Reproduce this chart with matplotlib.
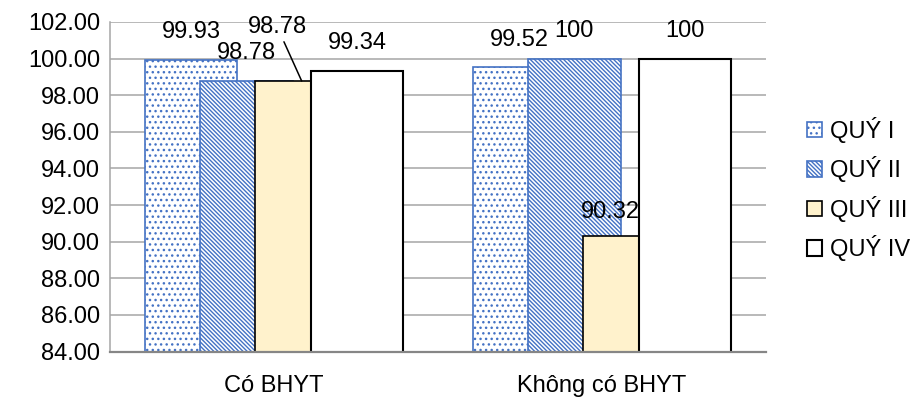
import matplotlib
matplotlib.use("Agg")
import matplotlib.pyplot as plt
import numpy as np

# Data
categories = ["Có BHYT", "Không có BHYT"]
series_names = ["QUÝ I", "QUÝ II", "QUÝ III", "QUÝ IV"]
q1 = [99.93, 99.52]
q2 = [98.78, 100]
q3 = [98.78, 90.32]
q4 = [99.34, 100]
y_ticks = [84, 86, 88, 90, 92, 94, 96, 98, 100, 102]

plt.rcParams["font.family"] = ["Liberation Sans", "DejaVu Sans"]
plt.rcParams["hatch.linewidth"] = 1.0

BLUE = "#4472C4"
FS = 17

fig = plt.figure(figsize=(9.21, 4.01), dpi=100)
ax = fig.add_axes([110 / 921, 1 - 351.5 / 401, 656 / 921, 329.5 / 401])

x = np.arange(len(categories))
step = 0.1686
width = 0.282

styles = [
    dict(facecolor="white", edgecolor=BLUE, hatch="...", linewidth=1.2),
    dict(facecolor="white", edgecolor=BLUE, hatch="\\" * 8, linewidth=1.2),
    dict(facecolor="#FFF2CC", edgecolor="black", linewidth=1.2),
    dict(facecolor="white", edgecolor="black", linewidth=1.5),
]
all_series = [q1, q2, q3, q4]
containers = []
for i, (vals, st, name) in enumerate(zip(all_series, styles, series_names)):
    offs = (i - 1.5) * step
    bc = ax.bar(x + offs, vals, width=width, label=name, zorder=2 + i, **st)
    containers.append(bc)

ax.set_xlim(-0.5, 1.5)
ax.set_ylim(84, 102)
ax.set_yticks(y_ticks)
ax.set_yticklabels([f"{v:.2f}" for v in y_ticks], fontsize=FS)
ax.set_xticks(x)
ax.set_xticklabels(categories, fontsize=FS)
ax.tick_params(axis="y", length=0, pad=7)
ax.tick_params(axis="x", length=0, pad=17)

ax.grid(axis="y", color="#A6A6A6", linewidth=1.1, zorder=0)
ax.set_axisbelow(True)
for s in ["top", "right"]:
    ax.spines[s].set_visible(False)
ax.spines["left"].set_color("#A6A6A6")
ax.spines["left"].set_linewidth(1.1)
ax.spines["bottom"].set_color("#868686")
ax.spines["bottom"].set_linewidth(1.6)
ax.spines["bottom"].set_zorder(10)


def fmt(v):
    return f"{v:g}"


PX = 0.72  # points per pixel at 100 dpi
# Data labels: default position above each bar; a few are nudged
label_offsets = {
    (2, 0): (-24.5, 54.2),
    (2, 1): (-19, 23.5),
}
for i, bc in enumerate(containers):
    for j, rect in enumerate(bc):
        v = all_series[i][j]
        cx = rect.get_x() + rect.get_width() / 2
        dx, dy = label_offsets.get((i, j), (0, 27.5))
        kw = {}
        if (i, j) == (2, 0):
            kw["arrowprops"] = dict(arrowstyle="-", color="black", lw=1.1,
                                    shrinkA=1, shrinkB=0)
        ax.annotate(fmt(v), xy=(cx, v), xytext=(dx * PX, dy * PX),
                    textcoords="offset points", ha="center", va="center",
                    fontsize=FS, zorder=20, annotation_clip=False, **kw)

leg = fig.legend(
    handles=containers, labels=series_names,
    loc="upper left", bbox_to_anchor=(807 / 921, 1 - 117 / 401),
    frameon=False, fontsize=FS, handlelength=0.62, handleheight=0.62,
    handletextpad=0.35, labelspacing=0.57, borderpad=0, borderaxespad=0,
)

fig.savefig("out.png", dpi=100)
